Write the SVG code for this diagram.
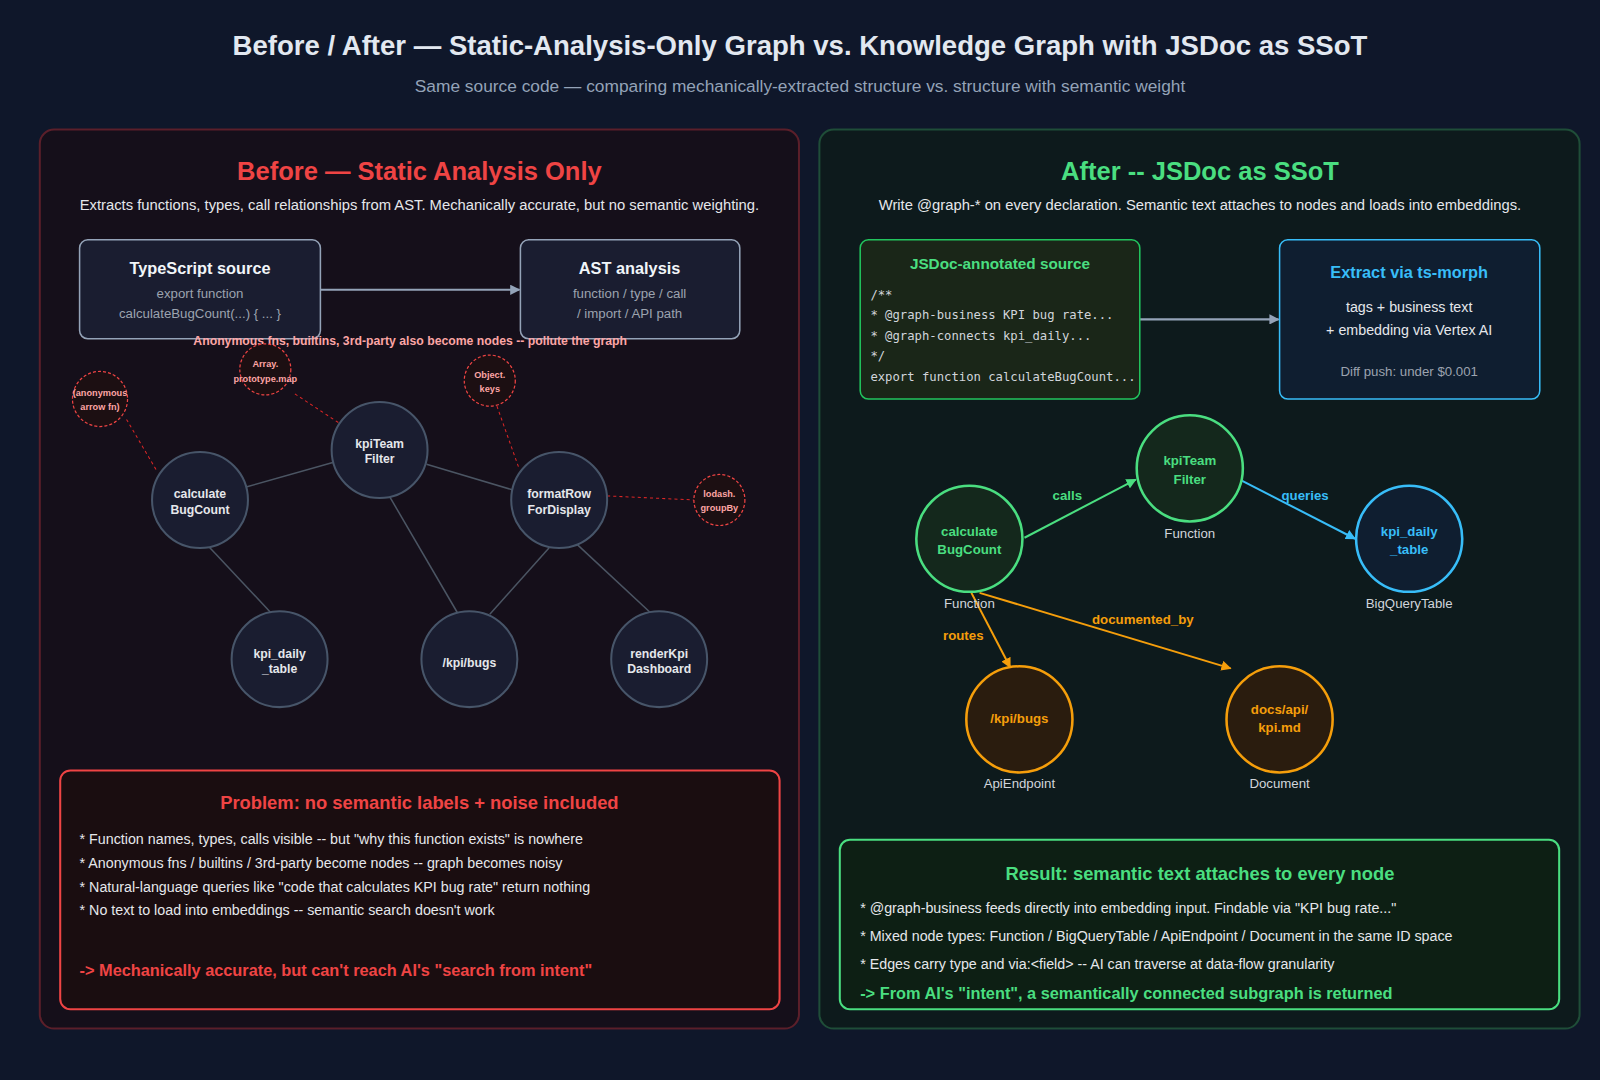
<svg xmlns="http://www.w3.org/2000/svg" width="1600" height="1080" viewBox="0 0 1600 1080">
<defs>
<marker id="ag" markerWidth="10" markerHeight="10" refX="9" refY="5" orient="auto" markerUnits="userSpaceOnUse"><path d="M0,0 L10,5 L0,10 z" fill="#94a3b8"/></marker>
<marker id="agr" markerWidth="10" markerHeight="10" refX="9" refY="5" orient="auto" markerUnits="userSpaceOnUse"><path d="M0,0 L10,5 L0,10 z" fill="#4ade80"/></marker>
<marker id="ab" markerWidth="10" markerHeight="10" refX="9" refY="5" orient="auto" markerUnits="userSpaceOnUse"><path d="M0,0 L10,5 L0,10 z" fill="#38bdf8"/></marker>
<marker id="ao" markerWidth="10" markerHeight="10" refX="9" refY="5" orient="auto" markerUnits="userSpaceOnUse"><path d="M0,0 L10,5 L0,10 z" fill="#f59e0b"/></marker>
</defs>
<style>
text{font-family:"Liberation Sans",Arial,sans-serif}
.b{font-weight:bold}
.mono{font-family:"DejaVu Sans Mono","Liberation Mono",monospace;font-size:12px;fill:#d1d5db}
.gn{fill:#1a1d30;stroke:#475569;stroke-width:2}
.gt{fill:#e5e7eb;font-size:12px;font-weight:bold;text-anchor:middle}
.nz{fill:#1c0f12;stroke:#ef4444;stroke-width:1.2;stroke-dasharray:3 2}
.nzt{fill:#fca5a5;font-size:9px;font-weight:bold;text-anchor:middle}
.gl{stroke:#4b5563;stroke-width:1.5}
.dl{stroke:#dc2626;stroke-width:1;stroke-dasharray:3 3}
.lst{fill:#e5e7eb;font-size:14px}
.lbl{fill:#d1d5db;font-size:13px;text-anchor:middle}
</style>
<rect width="1600" height="1080" fill="#0f172a"/>
<g transform="scale(1.0204)">
<text x="784" y="54" class="b" font-size="27" fill="#e2e8f0" text-anchor="middle">Before / After — Static-Analysis-Only Graph vs. Knowledge Graph with JSDoc as SSoT</text>
<text x="784" y="90" font-size="17" fill="#94a3b8" text-anchor="middle">Same source code — comparing mechanically-extracted structure vs. structure with semantic weight</text>

<g id="before-panel">
<rect x="39" y="127" width="744" height="881" rx="14" fill="#150f1a" stroke="#5b1f2a" stroke-width="2"/>
<text x="411" y="176" class="b" font-size="25" fill="#ef4444" text-anchor="middle">Before — Static Analysis Only</text>
<text x="411" y="206" font-size="14.5" fill="#e5e7eb" text-anchor="middle">Extracts functions, types, call relationships from AST. Mechanically accurate, but no semantic weighting.</text>
</g>
<g id="after-panel">
<rect x="803" y="127" width="745" height="881" rx="14" fill="#0d1a1c" stroke="#1f4d38" stroke-width="2"/>
<text x="1176" y="176" class="b" font-size="25" fill="#4ade80" text-anchor="middle">After -- JSDoc as SSoT</text>
<text x="1176" y="206" font-size="14.5" fill="#e5e7eb" text-anchor="middle">Write @graph-* on every declaration. Semantic text attaches to nodes and loads into embeddings.</text>
</g>

<g id="connectors">
<line x1="314" y1="284" x2="509" y2="284" stroke="#94a3b8" stroke-width="2" marker-end="url(#ag)"/>
<line x1="242" y1="477" x2="327" y2="453" class="gl"/>
<line x1="418" y1="455" x2="502" y2="480" class="gl"/>
<line x1="205" y1="536" x2="265" y2="600" class="gl"/>
<line x1="382" y1="487" x2="448" y2="600" class="gl"/>
<line x1="538" y1="537" x2="480" y2="602" class="gl"/>
<line x1="565" y1="533" x2="637" y2="600" class="gl"/>
<line x1="124" y1="411" x2="154" y2="462" class="dl"/>
<line x1="289" y1="386" x2="336" y2="417" class="dl"/>
<line x1="487" y1="398" x2="509" y2="460" class="dl"/>
<line x1="595" y1="486" x2="681" y2="490" class="dl"/>
<line x1="1117" y1="313" x2="1253" y2="313" stroke="#94a3b8" stroke-width="2" marker-end="url(#ag)"/>
<line x1="1004" y1="527" x2="1113" y2="470" stroke="#4ade80" stroke-width="2" marker-end="url(#agr)"/>
<line x1="1215" y1="470" x2="1328" y2="528" stroke="#38bdf8" stroke-width="2" marker-end="url(#ab)"/>
<line x1="952" y1="581" x2="990" y2="654" stroke="#f59e0b" stroke-width="2" marker-end="url(#ao)"/>
<line x1="960" y1="581" x2="1206" y2="655" stroke="#f59e0b" stroke-width="2" marker-end="url(#ao)"/>
<text x="1046" y="490" class="b" font-size="13" fill="#4ade80" text-anchor="middle">calls</text>
<text x="1279" y="490" class="b" font-size="13" fill="#38bdf8" text-anchor="middle">queries</text>
<text x="944" y="627" class="b" font-size="13" fill="#f59e0b" text-anchor="middle">routes</text>
<text x="1120" y="612" class="b" font-size="13" fill="#f59e0b" text-anchor="middle">documented_by</text>
</g>

<g id="ts-source"><rect x="78" y="235" width="236" height="97" rx="8" fill="#1a1d30" stroke="#94a3b8" stroke-width="1.5"/>
<text x="196" y="269" class="b" font-size="16" fill="#f1f5f9" text-anchor="middle">TypeScript source</text>
<text x="196" y="292" font-size="13" fill="#9ca3af" text-anchor="middle">export function</text>
<text x="196" y="312" font-size="13" fill="#9ca3af" text-anchor="middle">calculateBugCount(...) { ... }</text></g>
<g id="ast"><rect x="510" y="235" width="215" height="97" rx="8" fill="#1a1d30" stroke="#94a3b8" stroke-width="1.5"/>
<text x="617" y="269" class="b" font-size="16" fill="#f1f5f9" text-anchor="middle">AST analysis</text>
<text x="617" y="292" font-size="13" fill="#9ca3af" text-anchor="middle">function / type / call</text>
<text x="617" y="312" font-size="13" fill="#9ca3af" text-anchor="middle">/ import / API path</text></g>
<text x="402" y="338" class="b" font-size="12" fill="#fca5a5" text-anchor="middle">Anonymous fns, builtins, 3rd-party also become nodes -- pollute the graph</text>

<g id="n-anon"><circle cx="98" cy="391" r="27" class="nz"/><text x="98" y="388" class="nzt">(anonymous</text><text x="98" y="402" class="nzt">arrow fn)</text></g>
<g id="n-arraymap"><circle cx="260" cy="362" r="25" class="nz"/><text x="260" y="360" class="nzt">Array.</text><text x="260" y="374" class="nzt">prototype.map</text></g>
<g id="n-objkeys"><circle cx="480" cy="373" r="25" class="nz"/><text x="480" y="370" class="nzt">Object.</text><text x="480" y="384" class="nzt">keys</text></g>
<g id="n-lodash"><circle cx="705" cy="490" r="25" class="nz"/><text x="705" y="487" class="nzt">lodash.</text><text x="705" y="501" class="nzt">groupBy</text></g>
<g id="b-kpiTeam"><circle cx="372" cy="441" r="47" class="gn"/><text x="372" y="439" class="gt">kpiTeam</text><text x="372" y="454" class="gt">Filter</text></g>
<g id="b-calc"><circle cx="196" cy="490" r="47" class="gn"/><text x="196" y="488" class="gt">calculate</text><text x="196" y="504" class="gt">BugCount</text></g>
<g id="b-format"><circle cx="548" cy="490" r="47" class="gn"/><text x="548" y="488" class="gt">formatRow</text><text x="548" y="504" class="gt">ForDisplay</text></g>
<g id="b-kpidaily"><circle cx="274" cy="646" r="47" class="gn"/><text x="274" y="645" class="gt">kpi_daily</text><text x="274" y="660" class="gt">_table</text></g>
<g id="b-bugs"><circle cx="460" cy="646" r="47" class="gn"/><text x="460" y="654" class="gt">/kpi/bugs</text></g>
<g id="b-render"><circle cx="646" cy="646" r="47" class="gn"/><text x="646" y="645" class="gt">renderKpi</text><text x="646" y="660" class="gt">Dashboard</text></g>

<g id="problem"><rect x="59" y="755" width="705" height="234" rx="10" fill="#1a0d10" stroke="#ef4444" stroke-width="2"/>
<text x="411" y="793" class="b" font-size="18" fill="#ef4444" text-anchor="middle">Problem: no semantic labels + noise included</text>
<text x="78" y="827" class="lst">* Function names, types, calls visible -- but "why this function exists" is nowhere</text>
<text x="78" y="851" class="lst">* Anonymous fns / builtins / 3rd-party become nodes -- graph becomes noisy</text>
<text x="78" y="874" class="lst">* Natural-language queries like "code that calculates KPI bug rate" return nothing</text>
<text x="78" y="897" class="lst">* No text to load into embeddings -- semantic search doesn't work</text>
<text x="78" y="956" class="b" font-size="16" fill="#ef4444">-&gt; Mechanically accurate, but can't reach AI's "search from intent"</text></g>

<g id="jsdoc"><rect x="843" y="235" width="274" height="156" rx="8" fill="#1a2618" stroke="#22c55e" stroke-width="1.5"/>
<text x="980" y="264" class="b" font-size="15" fill="#4ade80" text-anchor="middle">JSDoc-annotated source</text>
<text x="853" y="293" class="mono">/**</text>
<text x="853" y="313" class="mono">* @graph-business KPI bug rate...</text>
<text x="853" y="333" class="mono">* @graph-connects kpi_daily...</text>
<text x="853" y="353" class="mono">*/</text>
<text x="853" y="373" class="mono">export function calculateBugCount...</text></g>
<g id="tsmorph"><rect x="1254" y="235" width="255" height="156" rx="8" fill="#0f1e30" stroke="#38bdf8" stroke-width="1.5"/>
<text x="1381" y="272" class="b" font-size="16" fill="#38bdf8" text-anchor="middle">Extract via ts-morph</text>
<text x="1381" y="306" font-size="14" fill="#e5e7eb" text-anchor="middle">tags + business text</text>
<text x="1381" y="328" font-size="14" fill="#e5e7eb" text-anchor="middle">+ embedding via Vertex AI</text>
<text x="1381" y="368" font-size="13" fill="#9ca3af" text-anchor="middle">Diff push: under $0.001</text></g>

<g id="a-kpiTeam"><circle cx="1166" cy="459" r="52" fill="#14281c" stroke="#4ade80" stroke-width="2.5"/><text x="1166" y="456" class="b" font-size="13" fill="#4ade80" text-anchor="middle">kpiTeam</text><text x="1166" y="474" class="b" font-size="13" fill="#4ade80" text-anchor="middle">Filter</text><text x="1166" y="527" class="lbl">Function</text></g>
<g id="a-calc"><circle cx="950" cy="528" r="52" fill="#14281c" stroke="#4ade80" stroke-width="2.5"/><text x="950" y="525" class="b" font-size="13" fill="#4ade80" text-anchor="middle">calculate</text><text x="950" y="543" class="b" font-size="13" fill="#4ade80" text-anchor="middle">BugCount</text><text x="950" y="596" class="lbl">Function</text></g>
<g id="a-kpidaily"><circle cx="1381" cy="528" r="52" fill="#0f1e30" stroke="#38bdf8" stroke-width="2.5"/><text x="1381" y="525" class="b" font-size="13" fill="#38bdf8" text-anchor="middle">kpi_daily</text><text x="1381" y="543" class="b" font-size="13" fill="#38bdf8" text-anchor="middle">_table</text><text x="1381" y="596" class="lbl">BigQueryTable</text></g>
<g id="a-bugs"><circle cx="999" cy="705" r="52" fill="#2a1c0e" stroke="#f59e0b" stroke-width="2.5"/><text x="999" y="709" class="b" font-size="13" fill="#f59e0b" text-anchor="middle">/kpi/bugs</text><text x="999" y="772" class="lbl">ApiEndpoint</text></g>
<g id="a-docs"><circle cx="1254" cy="705" r="52" fill="#2a1c0e" stroke="#f59e0b" stroke-width="2.5"/><text x="1254" y="700" class="b" font-size="13" fill="#f59e0b" text-anchor="middle">docs/api/</text><text x="1254" y="717" class="b" font-size="13" fill="#f59e0b" text-anchor="middle">kpi.md</text><text x="1254" y="772" class="lbl">Document</text></g>

<g id="result"><rect x="823" y="823" width="705" height="166" rx="10" fill="#0d1f14" stroke="#4ade80" stroke-width="2"/>
<text x="1176" y="862" class="b" font-size="18" fill="#4ade80" text-anchor="middle">Result: semantic text attaches to every node</text>
<text x="843" y="895" class="lst">* @graph-business feeds directly into embedding input. Findable via "KPI bug rate..."</text>
<text x="843" y="922" class="lst">* Mixed node types: Function / BigQueryTable / ApiEndpoint / Document in the same ID space</text>
<text x="843" y="950" class="lst">* Edges carry type and via:&lt;field&gt; -- AI can traverse at data-flow granularity</text>
<text x="843" y="979" class="b" font-size="16" fill="#4ade80">-&gt; From AI's "intent", a semantically connected subgraph is returned</text></g>
</g>
</svg>
